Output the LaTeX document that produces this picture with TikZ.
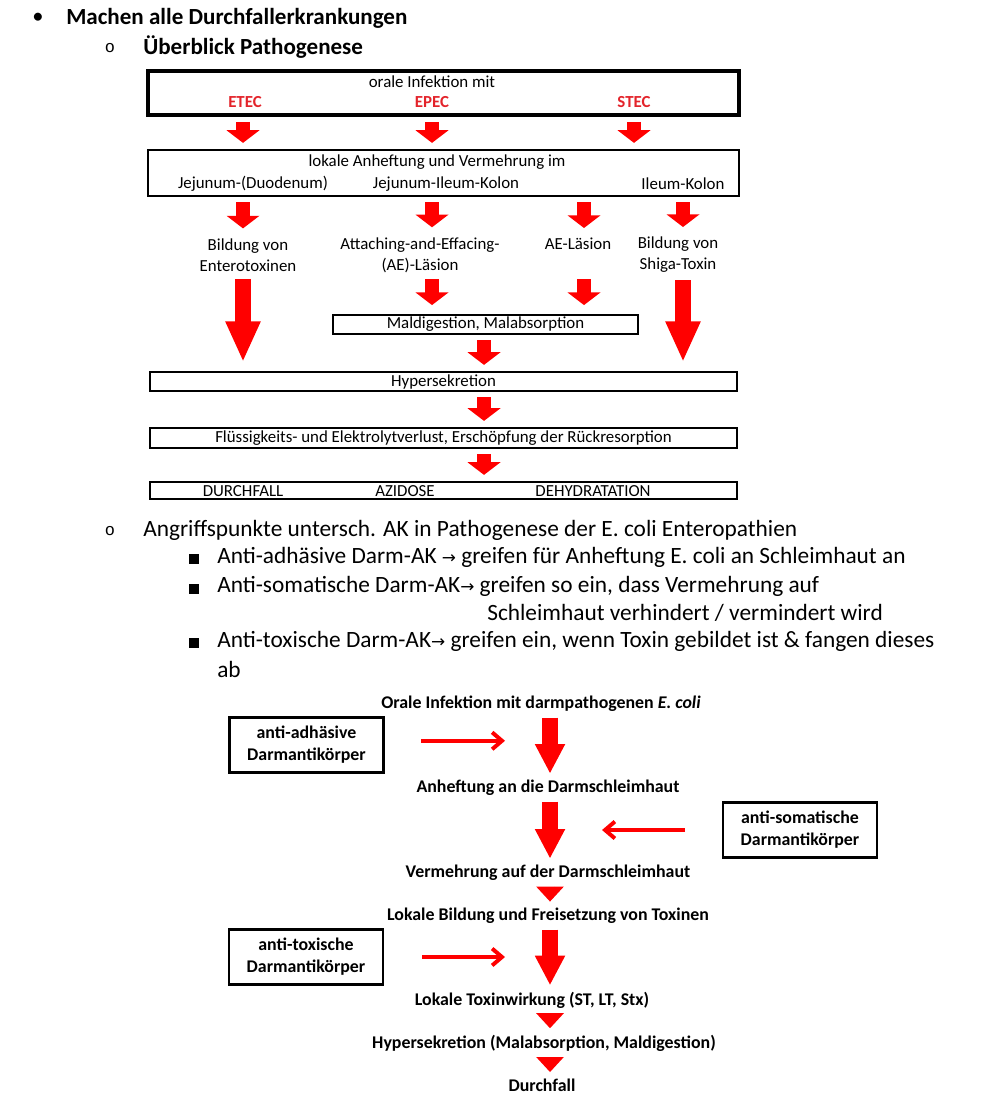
\documentclass[tikz,border=0pt]{standalone}
\usepackage{fontspec}
\setmainfont{Carlito}
\newfontfamily\symf{DejaVu Sans}
\newfontfamily\monof{Liberation Mono}
\usetikzlibrary{arrows.meta,positioning,calc}
\definecolor{arrred}{HTML}{FF0000}
\definecolor{txtred}{HTML}{E3242B}
\def\pxu{0.025cm}
\tikzset{
  box/.style={rectangle, draw=black, line width=2.1pt, inner sep=0pt, align=center,
              font=\fontsize{12}{14}\selectfont},
  lbl/.style={inner sep=1pt, align=center, font=\fontsize{12}{15}\selectfont},
  redlbl/.style={lbl, text=txtred, font=\fontsize{12}{14}\selectfont\bfseries},
  flow/.style={lbl, font=\fontsize{12.7}{15}\selectfont\bfseries},
  abbox/.style={box, line width=1.9pt, font=\fontsize{12.7}{15.5}\selectfont\bfseries,
                minimum width=154*\pxu, minimum height=55*\pxu},
  head/.style={anchor=west, inner sep=0pt, font=\fontsize{16.4}{19}\selectfont\bfseries},
  body/.style={anchor=west, inner sep=0pt, font=\fontsize{16.6}{19}\selectfont},
  circ/.style={inner sep=0pt, font=\fontsize{12}{14}\monof},
  sq/.style={rectangle, fill=black, minimum size=10*\pxu, inner sep=0pt},
  arrA/.style={draw=arrred, line width=10pt, -{Triangle[length=9pt,width=23pt]},
               shorten <=3.5pt, shorten >=4pt},
  arrB/.style={draw=arrred, line width=11.4pt, -{Triangle[length=29pt,width=23pt]},
               shorten <=4pt, shorten >=6pt},
  arrC/.style={draw=arrred, line width=10.7pt, -{Triangle[length=21pt,width=20pt]},
               shorten <=3pt, shorten >=3.5pt},
  arrD/.style={draw=arrred, line width=6.4pt, -{Triangle[length=10.7pt,width=19pt]},
               shorten <=3pt, shorten >=3.5pt},
  thin/.style={draw=arrred, line width=2.8pt, -{Straight Barb[length=7pt,width=12pt]}},
}
\newcommand{\ar}{{\symf\fontsize{12}{14}\selectfont→}}

\begin{document}
\begin{tikzpicture}[x=0.025cm, y=-0.025cm]
  \useasboundingbox (0,0) rectangle (999,1117);

  % headings
  \node[inner sep=0pt, font=\fontsize{16}{19}\selectfont] (b1) at (38,18) {•};
  \node[head] (h1) at (66,18) {Machen alle Durchfallerkrankungen};
  \node[circ] (b2) at (110,48) {o};
  \node[head] (h2) at (143,47) {Überblick Pathogenese};

  % columns of the first scheme
  \coordinate (c1) at (243,0);
  \coordinate (c2) at (432,0);
  \coordinate (c3) at (584,0);
  \coordinate (c4) at (683,0);
  \coordinate (c5) at (634,0);
  \coordinate (cm) at (484,0);

  \node[box, line width=2.6pt, minimum width=591*\pxu, minimum height=44*\pxu] (inf) at (443.5,93) {};
  \node[lbl] (oral) at (432,82) {orale Infektion mit};
  \node[redlbl] (etec) at (245,102) {ETEC};
  \node[redlbl] (epec) at (432,102) {EPEC};
  \node[redlbl] (stec) at (634,102) {STEC};

  \node[box, minimum width=591*\pxu, minimum height=46*\pxu] (anh) at (443.5,173) {};
  \node[lbl] (anhtxt) at (437,162) {lokale Anheftung und Vermehrung im};
  \node[lbl] (jej) at (253,184) {Jejunum-(Duodenum)};
  \node[lbl] (jil) at (446,184) {Jejunum-Ileum-Kolon};
  \node[lbl] (ilk) at (683,184) {Ileum-Kolon};

  \node[lbl] (ent) at (248,255) {Bildung von\\Enterotoxinen};
  \node[lbl] (ae) at (420,255) {Attaching-and-Effacing-\\(AE)-Läsion};
  \node[lbl] (ael) at (578,244) {AE-Läsion};
  \node[lbl] (shiga) at (678,255) {Bildung von\\Shiga-Toxin};

  \node[box, minimum width=305*\pxu, minimum height=19*\pxu] (mal) at (485.5,324.5) {Maldigestion, Malabsorption};
  \node[box, minimum width=587*\pxu, minimum height=19*\pxu] (hyp) at (443.5,381.5) {Hypersekretion};
  \node[box, minimum width=587*\pxu, minimum height=20*\pxu] (flu) at (443.5,438) {Flüssigkeits- und Elektrolytverlust, Erschöpfung der Rückresorption};
  \node[box, minimum width=587*\pxu, minimum height=17*\pxu] (fin) at (443.5,490.5) {};
  \node[lbl] (durch) at (243,491) {DURCHFALL};
  \node[lbl] (azid) at (405,491) {AZIDOSE};
  \node[lbl] (dehyd) at (593,491) {DEHYDRATATION};

  \draw[arrA] (c1 |- inf.south) -- (c1 |- anh.north);
  \draw[arrA] (c2 |- inf.south) -- (c2 |- anh.north);
  \draw[arrA] (c5 |- inf.south) -- (c5 |- anh.north);
  \draw[arrA, shorten >=6pt] (c1 |- anh.south) -- (c1 |- ent.north);
  \draw[arrA, shorten >=6pt] (c2 |- anh.south) -- (c2 |- ae.north);
  \draw[arrA, shorten >=6pt] (c3 |- anh.south) -- (c3 |- ael.north);
  \draw[arrA, shorten >=6pt] (c4 |- anh.south) -- (c4 |- shiga.north);
  \draw[arrA, shorten >=6pt] (c2 |- ae.south) -- (c2 |- mal.north);
  \draw[arrA, shorten >=6pt] (c3 |- ae.south) -- (c3 |- mal.north);
  \draw[arrB] (c1 |- ent.south) -- (c1 |- hyp.north);
  \draw[arrB] (c4 |- shiga.south) -- (c4 |- hyp.north);
  \draw[arrA] (cm |- mal.south) -- (cm |- hyp.north);
  \draw[arrA] (cm |- hyp.south) -- (cm |- flu.north);
  \draw[arrA] (cm |- flu.south) -- (cm |- fin.north);

  % points of attack
  \node[circ] (b3) at (110,531) {o};
  \node[body] (h3) at (143,530) {Angriffspunkte untersch. AK in Pathogenese der E. coli Enteropathien};
  \node[sq] (s1) at (194,559) {};
  \node[sq] (s2) at (194,589) {};
  \node[sq] (s3) at (194,643) {};
  \node[body] (t1) at (217,557) {Anti-adhäsive Darm-AK \ar{} greifen für Anheftung E. coli an Schleimhaut an};
  \node[body] (t2) at (217,586) {Anti-somatische Darm-AK\ar{} greifen so ein, dass Vermehrung auf};
  \node[body] (t2b) at (487,613) {Schleimhaut verhindert / vermindert wird};
  \node[body] (t3) at (217,641) {Anti-toxische Darm-AK\ar{} greifen ein, wenn Toxin gebildet ist \& fangen dieses};
  \node[body] (t3b) at (217,669) {ab};

  % second scheme
  \coordinate (d) at (550,0);
  \node[flow] (o1) at (541,704) {Orale Infektion mit darmpathogenen \textit{E. coli}};
  \node[flow] (anh2) at (548,788) {Anheftung an die Darmschleimhaut};
  \node[flow] (verm) at (548,873) {Vermehrung auf der Darmschleimhaut};
  \node[flow] (lok) at (548,916) {Lokale Bildung und Freisetzung von Toxinen};
  \node[flow] (tw) at (532,1000) {Lokale Toxinwirkung (ST, LT, Stx)};
  \node[flow] (hs) at (544,1043) {Hypersekretion (Malabsorption, Maldigestion)};
  \node[flow] (df) at (542,1085) {Durchfall};

  \node[abbox] (adh) at (306.5,745) {anti-adhäsive\\Darmantikörper};
  \node[abbox] (som) at (800,830) {anti-somatische\\Darmantikörper};
  \node[abbox] (tox) at (306,957) {anti-toxische\\Darmantikörper};

  \draw[arrC] (d |- o1.south) -- (d |- anh2.north);
  \draw[arrC] (d |- anh2.south) -- (d |- verm.north);
  \draw[arrD] (d |- verm.south) -- (d |- lok.north);
  \draw[arrC] (d |- lok.south) -- (d |- tw.north);
  \draw[arrD] (d |- tw.south) -- (d |- hs.north);
  \draw[arrD] (d |- hs.south) -- (d |- df.north);

  \draw[thin, shorten <=26pt, shorten >=32pt] ([yshift=3pt]adh.east) -- ([yshift=3pt]adh.east -| d);
  \draw[thin, shorten <=26pt, shorten >=37pt] (som.west) -- (som.west -| d);
  \draw[thin, shorten <=27pt, shorten >=32pt] (tox.east) -- (tox.east -| d);
\end{tikzpicture}
\end{document}
